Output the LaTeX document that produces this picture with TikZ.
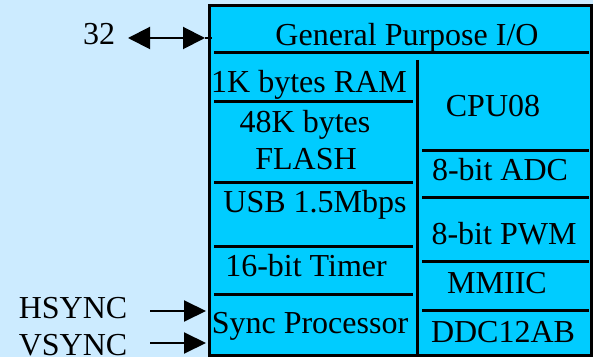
\documentclass[tikz,border=0pt]{standalone}
\usepackage{fontspec}
\setmainfont{Liberation Serif}
\usetikzlibrary{arrows.meta}
\definecolor{bgblue}{HTML}{CCEBFF}
\definecolor{chipblue}{HTML}{00CCFF}
\begin{document}
\begin{tikzpicture}[x=0.5pt,y=-0.5pt,
  lbl/.style={anchor=base,inner sep=0pt,font=\fontsize{16}{19}\selectfont},
  sep/.style={line width=1.5pt},
  sig/.style={line width=1pt},
  insig/.style={sig,-{Triangle[length=11pt,width=10.5pt]}},
  biosig/.style={sig,{Triangle[length=11pt,width=11pt]}-{Triangle[length=11pt,width=11pt]}}]
\fill[bgblue] (0,0) rectangle (593,357);
\useasboundingbox (0,0) rectangle (593,357);
% chip
\draw[line width=1.5pt,fill=chipblue] (209.5,6) rectangle (591,355.5);
% separators
\draw[sep] (214,53) -- (589,53);
\draw[sep] (417,60) -- (417,355);
\foreach \yy in {102,183,247,294} \draw[sep] (214,\yy) -- (413,\yy);
\foreach \yy in {151,198,262,310} \draw[sep] (422,\yy) -- (589,\yy);
% texts in chip
\node[lbl] (gpio) at (407,46) {General Purpose I/O};
\node[lbl] (ram) at (309,93) {1K bytes RAM};
\node[lbl] (flash1) at (305,133) {48K bytes};
\node[lbl] (flash2) at (306,170) {FLASH};
\node[lbl] (usb) at (315,213) {USB 1.5Mbps};
\node[lbl] (timer) at (306,277) {16-bit Timer};
\node[lbl] (syncp) at (310,333) {Sync Processor};
\node[lbl] (cpu) at (493,117) {CPU08};
\node[lbl] (adc) at (500,181) {8-bit ADC};
\node[lbl] (pwm) at (504,245) {8-bit PWM};
\node[lbl] (iic) at (497,293) {MMIIC};
\node[lbl] (ddc) at (503,342) {DDC12AB};
% external labels
\node[lbl] (n32) at (99,45) {32};
\node[lbl] (hs) at (73,318) {HSYNC};
\node[lbl] (vs) at (73,355) {VSYNC};
% connectors
\coordinate (ioA) at (128,38);
\coordinate (ioB) at (205,38);
\coordinate (ioC) at (212,38);
\draw[biosig] (ioA) -- (ioB);
\draw[sig] (ioB) -- (ioC);
\coordinate (hsA) at (150,311);
\coordinate (hsB) at (206,311);
\coordinate (vsA) at (150,343);
\coordinate (vsB) at (206,343);
\draw[insig] (hsA) -- (hsB);
\draw[insig] (vsA) -- (vsB);
\end{tikzpicture}
\end{document}
